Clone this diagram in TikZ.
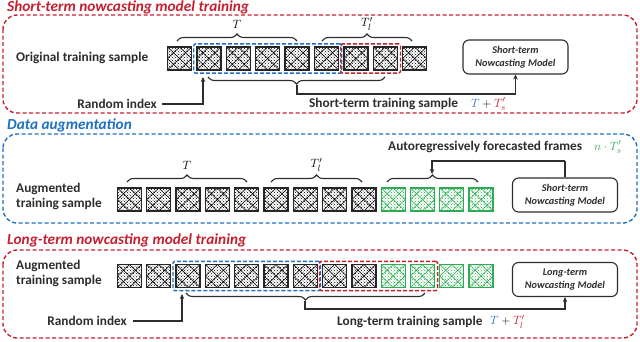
\documentclass[tikz,border=0pt]{standalone}
\usepackage{fontspec}
\setmainfont{Carlito}
\usetikzlibrary{decorations.pathreplacing,arrows.meta,patterns,fit}
\definecolor{rc}{RGB}{196,32,48}
\definecolor{bc}{RGB}{30,112,192}
\definecolor{gc}{RGB}{46,172,84}
\definecolor{tc}{RGB}{45,45,45}
\tikzset{
  ttl/.style={font=\fontsize{15.3}{17}\selectfont\bfseries\itshape, inner sep=0pt},
  lbl/.style={font=\fontsize{13.3}{15}\selectfont\bfseries, text=tc, inner sep=0pt, align=left},
  bigbox/.style={dash pattern=on 4pt off 2.5pt, line width=1.4pt, rounded corners=14pt},
  selbox/.style={draw, dash pattern=on 4pt off 2pt, line width=1.4pt, rounded corners=1.5pt, inner sep=2.5pt},
  frm/.style={draw=black!85, line width=1.3pt, minimum width=24pt, minimum height=23pt, inner sep=0pt,
    pattern=crosshatch dots, pattern color=black,
    path picture={\draw[line width=0.55pt,black] (path picture bounding box.north west)--(path picture bounding box.south east)
      (path picture bounding box.north east)--(path picture bounding box.south west)
      (path picture bounding box.north)--(path picture bounding box.east)--(path picture bounding box.south)--(path picture bounding box.west)--cycle;}},
  gfrm/.style={draw=gc, line width=1.3pt, minimum width=24pt, minimum height=23pt, inner sep=0pt,
    pattern=crosshatch dots, pattern color=gc,
    path picture={\draw[line width=0.55pt,gc] (path picture bounding box.north west)--(path picture bounding box.south east)
      (path picture bounding box.north east)--(path picture bounding box.south west)
      (path picture bounding box.north)--(path picture bounding box.east)--(path picture bounding box.south)--(path picture bounding box.west)--cycle;}},
  brc/.style={decorate, decoration={brace, amplitude=7pt}, line width=1.1pt, tc},
  arr/.style={line width=1.1pt, tc, -{Stealth[length=5pt,width=4.5pt]}},
  lin/.style={line width=1.1pt, tc},
  model/.style={draw=tc, line width=1.1pt, rounded corners=6pt, minimum width=105pt, minimum height=34pt,
    align=center, text=tc, font=\fontsize{10.3}{12.5}\selectfont\bfseries\itshape},
  mth/.style={inner sep=0pt, font=\fontsize{12.5}{14}\selectfont}
}
\begin{document}
\begin{tikzpicture}[x=1pt,y=-1pt]
\useasboundingbox (0,0) rectangle (640,341);

% ---------------- Section 1 ----------------
\node[ttl, rc, anchor=west] (t1) at (7,7) {Short-term nowcasting model training};
\draw[bigbox, rc] (3,15) rectangle (637,113);
\node[lbl, anchor=west] (ots) at (16,58) {Original training sample};
\foreach \i in {1,...,9} \node[frm] (a\i) at ({179.5+(\i-1)*29.4},58.5) {};
\node[selbox, bc, fit=(a2)(a6)] (sb1) {};
\node[selbox, rc, fit=(a7)(a8)] (sr1) {};
\draw[brc] (177,41) -- (297,41);
\node[mth] (lt1) at (237,24) {$T$};
\draw[brc] (322,41) -- (412,41);
\node[mth] (ll1) at (367,24) {$T_l'$};
\draw[brc] (385,77) -- (208,77);
\coordinate (ub1) at (297,85);
\coordinate (k1) at (297,94);
\node[model] (m1) at (515.5,57) {Short-term\\Nowcasting Model};
\draw[arr] (ub1) -- (k1) -| (m1.south);
\node[lbl, anchor=east] (ri1) at (157,104) {Random index};
\coordinate (rt1) at (203,77);
\draw[arr] ([xshift=5pt]ri1.east) -| (rt1);
\node[lbl, anchor=west] (sts) at (309,104) {Short-term training sample};
\node[mth, anchor=west] (stm) at (471,104) {$\textcolor{bc}{T}+\textcolor{rc}{T_s'}$};

% ---------------- Section 2 ----------------
\node[ttl, bc, anchor=west] (t2) at (7,125) {Data augmentation};
\draw[bigbox, bc] (3,134) rectangle (637,223);
\node[lbl, anchor=west] (ats1) at (16,196) {Augmented\\training sample};
\foreach \i in {1,...,9} \node[frm] (b\i) at ({129.5+(\i-1)*29.3},199.5) {};
\foreach \i in {10,...,13} \node[gfrm] (b\i) at ({129.5+(\i-1)*29.3},199.5) {};
\draw[brc] (127,182) -- (247,182);
\node[mth] (lt2) at (187,165) {$T$};
\draw[brc] (271,182) -- (362,182);
\node[mth] (ll2) at (316.5,165) {$T_l'$};
\draw[brc] (387,182) -- (478,182);
\coordinate (gb) at (432,174);
\node[model] (m2) at (565,195) {Short-term\\Nowcasting Model};
\coordinate (k2) at (565,161);
\draw[lin] (m2.north) -- (k2);
\draw[arr] (k2) -| (gb);
\node[lbl, anchor=west] (arf) at (388,147) {Autoregressively forecasted frames};
\node[mth, anchor=west] (nts) at (594,147) {$\textcolor{gc}{n\cdot T_s'}$};

% ---------------- Section 3 ----------------
\node[ttl, rc, anchor=west] (t3) at (7,240) {Long-term nowcasting model training};
\draw[bigbox, rc] (3,250) rectangle (637,338);
\node[lbl, anchor=west] (ats2) at (16,273) {Augmented\\training sample};
\foreach \i in {1,...,9} \node[frm] (c\i) at ({129.5+(\i-1)*29.3},276) {};
\foreach \i in {10,...,13} \node[gfrm] (c\i) at ({129.5+(\i-1)*29.3},276) {};
\node[selbox, bc, fit=(c3)(c7)] (sb3) {};
\node[selbox, rc, fit=(c8)(c11)] (sr3) {};
\draw[brc] (425,293) -- (186,293);
\coordinate (ub3) at (305,301);
\coordinate (k3) at (305,309);
\node[model] (m3) at (565,279.5) {Long-term\\Nowcasting Model};
\draw[arr] (ub3) -- (k3) -| (m3.south);
\node[lbl, anchor=east] (ri3) at (127,321) {Random index};
\coordinate (rt3) at (182,294);
\draw[arr] ([xshift=6pt]ri3.east) -| (rt3);
\node[lbl, anchor=west] (lts) at (337,322) {Long-term training sample};
\node[mth, anchor=west] (ltm) at (490,322) {$\textcolor{bc}{T}+\textcolor{rc}{T_l'}$};
\end{tikzpicture}
\end{document}
